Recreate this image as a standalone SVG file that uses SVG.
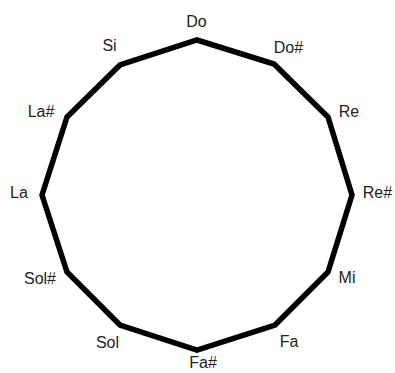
<svg xmlns="http://www.w3.org/2000/svg" width="395" height="373" viewBox="0 0 395 373">
<style>
.lbl{font-family:"Liberation Sans","DejaVu Sans",sans-serif;font-size:16px;fill:#222;text-anchor:middle}
.edge{fill:none;stroke:#000;stroke-width:5.5;stroke-linejoin:miter}
</style>
<rect width="395" height="373" fill="#fff"/>
<g id="connectors">
<polygon class="edge" points="197,40 274,64 328,117 352,195 328,272 275,325 197,350 120,325 67,272 42,195 67,117 120,65"/>
</g>
<g id="node-do"><text class="lbl" x="196.5" y="27">Do</text></g>
<g id="node-dos"><text class="lbl" x="288.5" y="53">Do#</text></g>
<g id="node-re"><text class="lbl" x="349" y="117">Re</text></g>
<g id="node-res"><text class="lbl" x="377.5" y="198">Re#</text></g>
<g id="node-mi"><text class="lbl" x="347" y="283">Mi</text></g>
<g id="node-fa"><text class="lbl" x="289" y="347">Fa</text></g>
<g id="node-fas"><text class="lbl" x="203" y="368">Fa#</text></g>
<g id="node-sol"><text class="lbl" x="107.5" y="348">Sol</text></g>
<g id="node-sols"><text class="lbl" x="40" y="284">Sol#</text></g>
<g id="node-la"><text class="lbl" x="19" y="198">La</text></g>
<g id="node-las"><text class="lbl" x="41" y="117">La#</text></g>
<g id="node-si"><text class="lbl" x="109.5" y="51">Si</text></g>
</svg>
